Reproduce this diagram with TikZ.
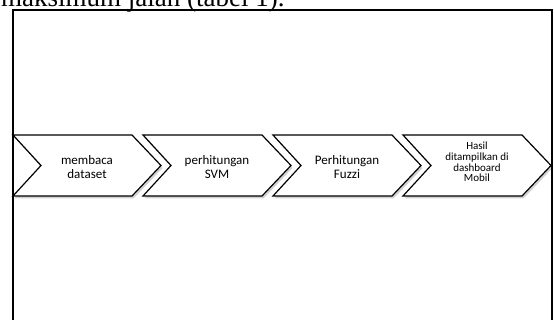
\documentclass[tikz,border=0pt]{standalone}
\usepackage{fontspec}
\setmainfont{Liberation Serif}
\newfontfamily\carlito{Carlito}
\begin{document}
\begin{tikzpicture}[x=1pt,y=-1pt,
  chev/.style={fill=white,draw=black,line width=1.2pt,line join=miter},
  chevshadow/.style={fill=black,opacity=0.18},
  lbl/.style={align=center,inner sep=0pt,font=\carlito\fontsize{13}{13.6}\selectfont},
  lblsmall/.style={align=center,inner sep=0pt,font=\carlito\fontsize{11}{10.8}\selectfont},
  frame/.style={draw=black,line width=1.8pt}]
\useasboundingbox (0,0) rectangle (554,320);
\clip (0,0) rectangle (554,320);
% caption fragment at top
\node[anchor=base west,inner sep=0pt,font=\fontsize{27}{30}\selectfont] (cap) at (1,7) {maksimum jalan (tabel 1).};
% frame
\draw[frame] (13,330) -- (13,10) -- (552,10) -- (552,330);
% chevrons
\foreach \i/\x in {1/13,2/143,3/273,4/403}{
  \fill[chevshadow] ([shift={(1.5,2.5)}]\x,135) -- ++(119,0) -- ++(29,30.5) -- ++(-29,30.5) -- ++(-119,0) -- ++(28,-30.5) -- cycle;
  \path[chev] (\x,135) -- ++(119,0) -- ++(29,30.5) -- ++(-29,30.5) -- ++(-119,0) -- ++(28,-30.5) -- cycle;
}
\node[lbl] (t1) at (87,167) {membaca\\dataset};
\node[lbl] (t2) at (217,167) {perhitungan\\SVM};
\node[lbl] (t3) at (347,167) {Perhitungan\\Fuzzi};
\node[lblsmall] (t4) at (477,162) {Hasil\\ditampilkan di\\dashboard\\Mobil};
\end{tikzpicture}
\end{document}
